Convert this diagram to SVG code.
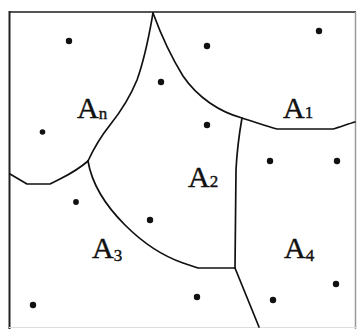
<svg xmlns="http://www.w3.org/2000/svg" width="357" height="329" viewBox="0 0 357 329">
<style>
.edge{fill:none;stroke:#111;stroke-width:1.7;stroke-linejoin:round;stroke-linecap:round}
.dot{fill:#111}
.lbl{font-family:"Liberation Serif","DejaVu Serif",serif;fill:#111;stroke:#111;stroke-width:0.4}
.big{font-size:30px}
.sub{font-size:17px}
</style>
<rect width="357" height="329" fill="#fff"/>
<g id="frame" fill="none">
<line x1="9" y1="12" x2="356" y2="12" stroke="#555" stroke-width="2"/>
<line x1="9.5" y1="11" x2="9.5" y2="329" stroke="#222" stroke-width="2"/>
<line x1="355.5" y1="12" x2="355.5" y2="329" stroke="#999" stroke-width="1.5"/>
<line x1="9" y1="327.5" x2="356" y2="327.5" stroke="#ddd" stroke-width="1"/>
</g>
<g id="connectors">
<path class="edge" d="M153,13 C150,30 146,55 137,80 C128,102 118,115 110,125 C102,135 94,148 88,161"/>
<path class="edge" d="M153,13 C160,32 170,55 183,76 C198,98 220,112 242,118 C255,122 266,126 277,129 L333,129 C340,127 348,124 355,122"/>
<path class="edge" d="M242,118 C239,135 237,150 236,170 L235,268"/>
<path class="edge" d="M88,161 C92,185 105,205 125,225 C140,240 160,255 183,263 L198,268 L235,268"/>
<path class="edge" d="M235,268 C242,285 250,305 259,327"/>
<path class="edge" d="M88,161 C80,168 70,174 60,179 L50,184 L27,184 L10,174"/>
</g>
<g id="sites">
<circle class="dot" cx="69" cy="41" r="3.2"/>
<circle class="dot" cx="207" cy="46" r="3.2"/>
<circle class="dot" cx="319" cy="31" r="3.2"/>
<circle class="dot" cx="161" cy="82" r="3.2"/>
<circle class="dot" cx="207" cy="125" r="3.2"/>
<circle class="dot" cx="42.5" cy="132" r="2.8"/>
<circle class="dot" cx="270" cy="161" r="3.2"/>
<circle class="dot" cx="337" cy="161" r="3.2"/>
<circle class="dot" cx="76" cy="202" r="2.9"/>
<circle class="dot" cx="150" cy="220" r="3.2"/>
<circle class="dot" cx="336" cy="284" r="3.2"/>
<circle class="dot" cx="33" cy="305" r="3.2"/>
<circle class="dot" cx="197" cy="297" r="3.2"/>
<circle class="dot" cx="273" cy="300" r="3.2"/>
</g>
<g id="An"><text class="lbl big" x="77" y="118">A<tspan class="sub" dy="1">n</tspan></text></g>
<g id="A1"><text class="lbl big" x="283" y="118">A<tspan class="sub" dy="0">1</tspan></text></g>
<g id="A2"><text class="lbl big" x="188" y="187">A<tspan class="sub" dy="0">2</tspan></text></g>
<g id="A3"><text class="lbl big" x="92" y="258">A<tspan class="sub" dy="3">3</tspan></text></g>
<g id="A4"><text class="lbl big" x="284" y="258">A<tspan class="sub" dy="3">4</tspan></text></g>
</svg>
